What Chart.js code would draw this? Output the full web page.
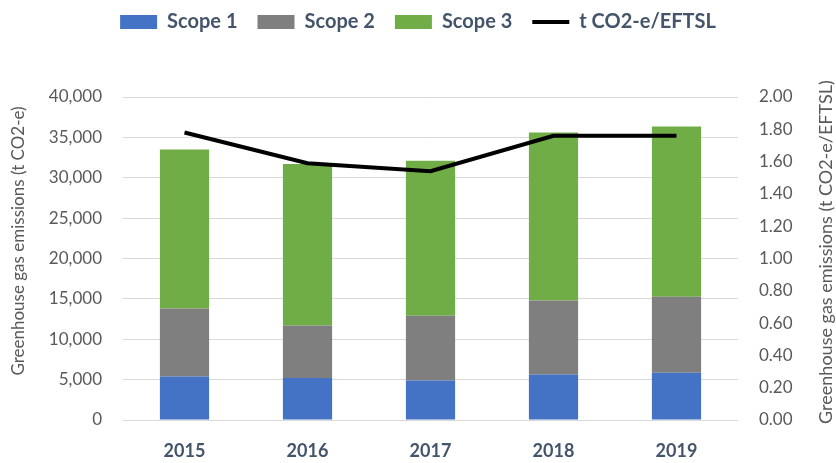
<!DOCTYPE html>
<html lang="en">
<head>
  <meta charset="UTF-8">
  <title>Greenhouse gas emissions</title>
  <script src="https://cdn.jsdelivr.net/npm/chart.js"></script>
  <style>
    * { margin: 0; padding: 0; box-sizing: border-box; }
    body { background: #fff; }
    .chart-container { position: relative; width: 836px; height: 463px; }
  </style>
</head>
<body>
  <div class="chart-container">
    <canvas id="ghgChart"></canvas>
  </div>

  <script>
    // data
    const years = ['2015', '2016', '2017', '2018', '2019'];
    const scope1 = [5400, 5200, 4900, 5650, 5850];
    const scope2 = [8400, 6500, 8000, 9150, 9400];
    const scope3 = [19700, 20000, 19200, 20800, 21100];
    const perEftsl = [1.78, 1.59, 1.54, 1.76, 1.76];

    const FONT = 'Lato, "Open Sans", sans-serif';
    const tickColor = '#595959';
    const labelColor = '#44546A';

    // plot box edges as measured on the reference
    const PLOT_LEFT = 123, PLOT_RIGHT = 738, PLOT_TOP = 97, PLOT_BOTTOM = 420;

    // make room under the legend so the plot starts where it should,
    // and nudge the legend row up to the top of the picture
    const legendGap = {
      id: 'legendGap',
      beforeInit(chart) {
        const lg = chart.legend;
        const fit = lg.fit;
        lg.fit = function () {
          fit.call(this);
          this.height = PLOT_TOP;
        };
        const draw = lg.draw;
        lg.draw = function () {
          this.ctx.save();
          this.ctx.translate(0, -8);
          draw.call(this);
          this.ctx.restore();
        };
      }
    };

    // both axis titles read bottom-to-top, like the Excel original
    function drawTitle(c, text, x, y, size) {
      c.save();
      c.fillStyle = tickColor;
      c.font = size + 'px ' + FONT;
      c.textAlign = 'center';
      c.textBaseline = 'middle';
      c.translate(x, y);
      c.rotate(-Math.PI / 2);
      c.fillText(text, 0, 0);
      c.restore();
    }
    const axisTitles = {
      id: 'axisTitles',
      afterDraw(chart) {
        drawTitle(chart.ctx, 'Greenhouse gas emissions (t CO2-e)', 19, 241, 17);
        drawTitle(chart.ctx, 'Greenhouse gas emissions (t CO2-e/EFTSL)', 826, 252, 18);
      }
    };

    const ctx = document.getElementById('ghgChart').getContext('2d');
    new Chart(ctx, {
      type: 'bar',
      data: {
        labels: years,
        datasets: [
          { label: 'Scope 1', data: scope1, backgroundColor: '#4472C4', yAxisID: 'y', stack: 's', order: 1 },
          { label: 'Scope 2', data: scope2, backgroundColor: '#7F7F7F', yAxisID: 'y', stack: 's', order: 1 },
          { label: 'Scope 3', data: scope3, backgroundColor: '#70AD47', yAxisID: 'y', stack: 's', order: 1 },
          {
            type: 'line',
            label: 't CO2-e/EFTSL',
            data: perEftsl,
            borderColor: '#000',
            backgroundColor: '#000',
            borderWidth: 4,
            pointRadius: 0,
            tension: 0,
            yAxisID: 'y1',
            order: 0
          }
        ]
      },
      plugins: [legendGap, axisTitles],
      options: {
        responsive: true,
        maintainAspectRatio: false,
        animation: false,
        layout: { padding: 0 },
        datasets: {
          bar: { barPercentage: 0.4, categoryPercentage: 1 }
        },
        plugins: {
          tooltip: { enabled: false },
          legend: {
            position: 'top',
            labels: {
              usePointStyle: true,
              pointStyleWidth: 37,
              boxHeight: 14,
              padding: 20,
              color: labelColor,
              font: { family: FONT, size: 20, weight: 'bold' },
              sort: (a, b) => a.datasetIndex - b.datasetIndex,
              generateLabels: (chart) => {
                const items = Chart.defaults.plugins.legend.labels.generateLabels(chart);
                items.forEach(it => {
                  it.pointStyle = it.datasetIndex === 3 ? 'line' : 'rect';
                });
                return items;
              }
            }
          }
        },
        scales: {
          x: {
            grid: { display: false },
            border: { display: false },
            afterFit: s => { s.height = 463 - PLOT_BOTTOM; },
            ticks: { color: labelColor, font: { family: FONT, size: 18, weight: 'bold' }, padding: 12 }
          },
          y: {
            position: 'left',
            stacked: true,
            min: 0,
            max: 40000,
            border: { display: false },
            grid: { color: '#D9D9D9', lineWidth: 1, drawTicks: false },
            afterFit: s => { s.width = PLOT_LEFT; },
            ticks: {
              stepSize: 5000,
              padding: 21,
              color: tickColor,
              font: { family: FONT, size: 17 },
              callback: v => v.toLocaleString('en-US')
            }
          },
          y1: {
            position: 'right',
            min: 0,
            max: 2,
            border: { display: false },
            grid: { display: false, drawTicks: false },
            afterFit: s => { s.width = 836 - PLOT_RIGHT; },
            ticks: {
              stepSize: 0.2,
              padding: 21,
              color: tickColor,
              font: { family: FONT, size: 17 },
              callback: v => v.toFixed(2)
            }
          }
        }
      }
    });
  </script>
</body>
</html>
